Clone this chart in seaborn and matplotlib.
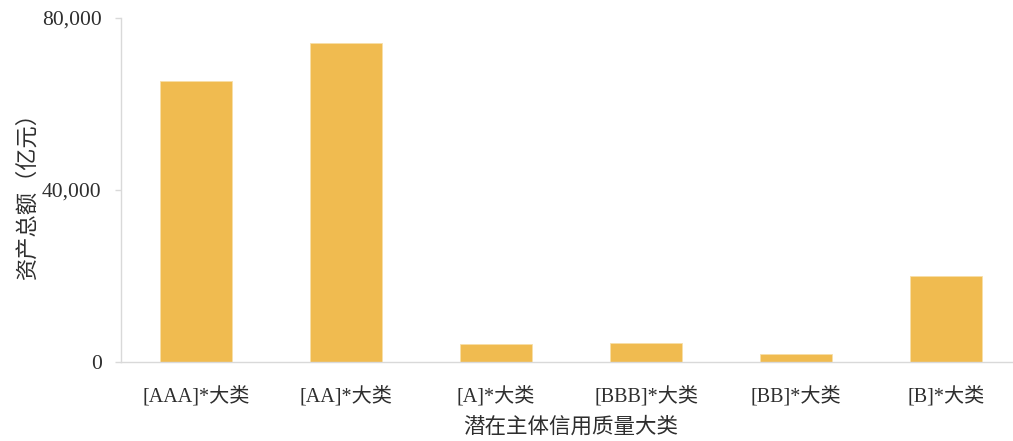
import matplotlib
matplotlib.use("Agg")
import matplotlib.pyplot as plt
import seaborn as sns
import pandas as pd
from matplotlib.ticker import FuncFormatter, FixedLocator

categories = ["[AAA]*大类", "[AA]*大类", "[A]*大类", "[BBB]*大类", "[BB]*大类", "[B]*大类"]
values = [65300, 74200, 4200, 4400, 1900, 20000]
yticks = [0, 40000, 80000]
xlabel = "潜在主体信用质量大类"
ylabel = "资产总额（亿元）"

sns.set_theme(style="white")
plt.rcParams['font.family'] = ['Liberation Serif', 'Noto Sans CJK SC', 'DejaVu Sans']

df = pd.DataFrame({"cat": categories, "val": values})

W, H = 1013, 441
fig = plt.figure(figsize=(W / 100, H / 100), dpi=100)
ax = fig.add_axes([121 / W, 79 / H, 900 / W, 344 / H])

sns.barplot(data=df, x="cat", y="val", color="#F0BB50", width=0.475,
            edgecolor="#F8DFA8", linewidth=0.6, saturation=1, ax=ax)

ax.set_xlim(-0.5, len(categories) - 0.5)
ax.set_ylim(0, 80000)
ax.set_yticks(yticks)
ax.yaxis.set_major_formatter(FuncFormatter(lambda v, p: f"{int(v):,}"))

txt = "#2E2E2E"
grid_c = "#D9D9D9"
for s in ["top", "right"]:
    ax.spines[s].set_visible(False)
for s in ["left", "bottom"]:
    ax.spines[s].set_color(grid_c)
    ax.spines[s].set_linewidth(1.0)

ax.xaxis.set_minor_locator(FixedLocator([i - 0.5 for i in range(len(categories) + 1)]))
ax.tick_params(axis="x", which="major", length=0, pad=17, labelsize=14.5, labelcolor=txt)
ax.tick_params(axis="x", which="minor", length=4, width=1, color=grid_c, direction="out")
ax.tick_params(axis="y", which="major", length=4, width=1, color=grid_c, direction="out",
               pad=10, labelsize=15.5, labelcolor=txt, left=True)

ax.set_xlabel(xlabel, fontsize=15.5, color=txt, labelpad=8)
ax.set_ylabel(ylabel, fontsize=16, color=txt)
ax.yaxis.set_label_coords(-0.092, 0.5)

fig.savefig("out.png", dpi=100)
